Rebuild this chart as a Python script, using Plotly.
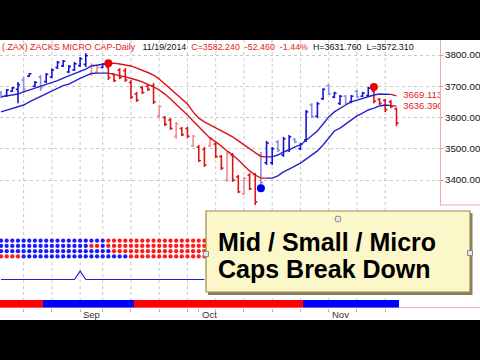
import plotly.graph_objects as go

# ---------------- data ----------------
# bar index 0 = Aug 12 2014 ... 70 = Nov 19 2014 (trading days)
highs = [3685, 3691, 3698, 3714, 3730, 3742, 3717, 3736, 3742, 3758,
         3781, 3784, 3768, 3778, 3794, 3806, 3774, 3765, 3774, 3765,
         3742, 3758, 3758, 3720, 3682, 3701, 3704, 3710, 3640, 3605,
         3598, 3586, 3570, 3570, 3544, 3512, 3506, 3538, 3522, 3480,
         3490, 3486, 3416, 3410, 3422, 3422, 3490, 3525, 3506, 3528,
         3538, 3544, 3534, 3518, 3624, 3646, 3650, 3694, 3707, 3682,
         3672, 3672, 3672, 3688, 3682, 3698, 3688, 3662, 3659, 3656,
         3631.76]
lows = [3662, 3666, 3682, 3646, 3678, 3730, 3698, 3685, 3710, 3726,
        3755, 3762, 3742, 3749, 3762, 3762, 3733, 3742, 3758, 3720,
        3714, 3723, 3714, 3659, 3650, 3675, 3685, 3643, 3598, 3573,
        3560, 3531, 3541, 3534, 3506, 3458, 3442, 3506, 3470, 3432,
        3394, 3394, 3358, 3352, 3368, 3320, 3384, 3448, 3448, 3490,
        3474, 3490, 3518, 3496, 3522, 3598, 3598, 3656, 3672, 3662,
        3640, 3640, 3646, 3662, 3666, 3666, 3646, 3640, 3618, 3630,
        3572.31]
opens = [3680, 3670, 3684, 3690, 3720, 3732, 3700, 3730, 3715, 3730,
         3760, 3765, 3746, 3752, 3766, 3770, 3740, 3745, 3760, 3760,
         3738, 3752, 3750, 3712, 3675, 3696, 3700, 3702, 3605, 3600,
         3592, 3540, 3565, 3565, 3510, 3505, 3498, 3510, 3515, 3475,
         3400, 3480, 3410, 3356, 3415, 3418, 3480, 3455, 3455, 3522,
         3480, 3495, 3530, 3500, 3528, 3640, 3604, 3660, 3702, 3665,
         3645, 3668, 3650, 3684, 3668, 3670, 3684, 3658, 3655, 3650,
         3628]
closes = [3668, 3688, 3695, 3705, 3690, 3740, 3712, 3695, 3738, 3752,
          3776, 3780, 3763, 3772, 3788, 3798, 3768, 3760, 3771, 3728,
          3718, 3728, 3720, 3665, 3655, 3680, 3690, 3650, 3635, 3578,
          3565, 3580, 3545, 3540, 3540, 3462, 3448, 3535, 3475, 3438,
          3485, 3400, 3362, 3405, 3372, 3330, 3392, 3518, 3500, 3495,
          3532, 3538, 3522, 3514, 3618, 3604, 3644, 3690, 3676, 3678,
          3668, 3645, 3668, 3666, 3678, 3694, 3652, 3645, 3625, 3634.70,
          3582.24]
# B dark blue, b light blue, R dark red, r light red
bar_style = "bBBBb BBbBB BBBBB BrrBR RRRRR RRRrR RrRRr RRrRR rRRrR RbBBb BBbBB bBBbB BbBbB BRRRR R".replace(" ", "")

upper = [3666, 3669, 3672, 3675, 3682, 3688, 3694, 3699, 3704, 3710,
         3718, 3726, 3733, 3741, 3749, 3755, 3765, 3768, 3771, 3773,
         3774, 3771, 3768, 3765, 3758, 3752, 3744, 3736, 3723, 3707,
         3691, 3675, 3659, 3643, 3618, 3598, 3586, 3576, 3566, 3557,
         3547, 3538, 3525, 3512, 3499, 3486, 3475, 3474, 3474, 3480,
         3490, 3496, 3506, 3512, 3528, 3544, 3557, 3579, 3602, 3618,
         3630, 3640, 3650, 3656, 3662, 3667, 3672, 3675, 3675, 3674,
         3669.113]
lower = [3618, 3624, 3629, 3634, 3640, 3650, 3659, 3666, 3675, 3685,
         3694, 3702, 3707, 3717, 3725, 3733, 3741, 3742, 3742, 3742,
         3739, 3734, 3730, 3726, 3720, 3714, 3707, 3698, 3688, 3675,
         3659, 3643, 3627, 3608, 3589, 3570, 3550, 3534, 3522, 3509,
         3493, 3480, 3464, 3445, 3429, 3416, 3406, 3406, 3406, 3413,
         3426, 3435, 3445, 3454, 3467, 3480, 3493, 3512, 3534, 3557,
         3566, 3579, 3592, 3605, 3614, 3624, 3630, 3637, 3640, 3638,
         3636.39]
band_segments = [(0, 19, "up"), (19, 47, "down"), (47, 69, "up"), (69, 70, "down")]

sell_idx = [19, 66]
sell_price = [3774, 3698]
buy_idx = [46]
buy_price = [3374]

dot_rows = [
    "BBBBB BBBBB BBBBB BBBBR RRRRR RRRRR RRRRR RR",
    "BBBBB BBBBB BBBBB BRRBR RRRRR RRRRR RRRRR RR",
    "BBBBB BBBBB BBBBB BBBBB RRRRR RRRRR RRRRR RR",
    "RRRRB BBBBB BBBBB BBBBB BBBRR RRRRR RRRRR RR",
]
osc_vals = [0, 0, 0, 0, 0, 0, 0, 0, 0, 0, 0, 0, 0, 0, 1, 0, 0, 0, 0, 0,
            0, 0, 0, 0, 0, 0, 0, 0, 0, 0, 0, 0, 0, 0, 0, 0, 0]
trend_bar = "RRRRR RRRBB BBBBB BBBBB BBBBR RRRRR RRRRR RRRRR RRRRR RRRRR RRRRB BBBBB BBBBB BBBBB B".replace(" ", "")

week_idx = [4, 9, 14, 18, 23, 28, 33, 38, 43, 48, 53, 58, 63, 68]
month_idx = [14, 35, 58]
month_lbl = ["Sep", "Oct", "Nov"]
price_ticks = [3400, 3500, 3600, 3700, 3800]

RED_T, BLK_T = "#e3231b", "#111111"
title_parts = [("(.ZAX) ZACKS MICRO CAP-Daily", RED_T, 3), ("11/19/2014", BLK_T, 2),
               ("C=3582.240", RED_T, 2), ("-52.460", RED_T, 2), ("-1.44%", RED_T, 2),
               ("H=3631.760", BLK_T, 2), ("L=3572.310", BLK_T, 0)]

# ---------------- helpers ----------------
W, H = 480, 360
def py(p):
    return 1 - p / H
def px(p):
    return p / W

XR = [-0.18, 77.7]
XD = [0, 440 / W]
FONT = "Liberation Sans, Arial, sans-serif"
BLUE, LBLUE, RED, LRED = "#1414d4", "#8c8ce8", "#dc1414", "#f08c8c"
style_col = {"B": BLUE, "b": LBLUE, "R": RED, "r": LRED}

fig = go.Figure()

# OHLC bars
for s, col in style_col.items():
    xs, ys = [], []
    for i, st in enumerate(bar_style):
        if st != s:
            continue
        xs += [i, i, None, i - 0.38, i, None, i, i + 0.38, None]
        ys += [lows[i], highs[i], None, opens[i], opens[i], None, closes[i], closes[i], None]
    fig.add_trace(go.Scatter(x=xs, y=ys, mode="lines", line=dict(color=col, width=1.6),
                             xaxis="x", yaxis="y", hoverinfo="skip"))

# bands
for a, b, t in band_segments:
    col = "#2222cc" if t == "up" else "#dd1111"
    xs = list(range(a, b + 1))
    for arr in (upper, lower):
        fig.add_trace(go.Scatter(x=xs, y=arr[a:b + 1], mode="lines",
                                 line=dict(color=col, width=1.4), xaxis="x", yaxis="y",
                                 hoverinfo="skip"))

# signal dots
fig.add_trace(go.Scatter(x=sell_idx, y=sell_price, mode="markers",
                         marker=dict(color="#ee0000", size=8), xaxis="x", yaxis="y"))
fig.add_trace(go.Scatter(x=buy_idx, y=buy_price, mode="markers",
                         marker=dict(color="#0000ee", size=8), xaxis="x", yaxis="y"))

# end labels (clipped at the axis)
fig.add_trace(go.Scatter(x=[71.2, 71.2], y=[upper[-1], lower[-1]], mode="text",
                         text=["%.3f" % upper[-1], "%.3f" % lower[-1]],
                         textposition="middle right", cliponaxis=True,
                         textfont=dict(family=FONT, size=9.5, color=RED_T),
                         xaxis="x", yaxis="y"))

# dot matrix
for colkey, col in (("B", "#1a1aff"), ("R", "#ff1a1a")):
    xs, ys = [], []
    for r, row in enumerate(dot_rows):
        row = row.replace(" ", "")
        for i, c in enumerate(row):
            if c == colkey:
                xs.append(i)
                ys.append(4 - r)
    fig.add_trace(go.Scatter(x=xs, y=ys, mode="markers",
                             marker=dict(color=col, size=4.3, line=dict(width=0)),
                             xaxis="x2", yaxis="y2"))

# oscillator line
fig.add_trace(go.Scatter(x=list(range(len(osc_vals))), y=osc_vals, mode="lines",
                         line=dict(color="#2222cc", width=1.2), xaxis="x3", yaxis="y3"))

# trend color bar
fig.add_trace(go.Bar(x=list(range(len(trend_bar))), y=[1] * len(trend_bar), width=1,
                     marker=dict(color=["#ff0000" if c == "R" else "#0000ff" for c in trend_bar],
                                 line=dict(width=0)),
                     xaxis="x4", yaxis="y4"))

# ---------------- layout ----------------
shapes = [dict(type="rect", xref="paper", yref="paper", x0=0, x1=1, y0=py(320), y1=py(40),
               fillcolor="white", line=dict(width=0), layer="below")]
for w in week_idx:
    shapes.append(dict(type="line", xref="x", yref="paper", x0=w, x1=w, y0=py(307), y1=py(40),
                       line=dict(color="#c9c9c9", width=1, dash="dot"), layer="below"))
shapes.append(dict(type="line", xref="paper", yref="paper", x0=px(440), x1=1, y0=py(205), y1=py(205),
                   line=dict(color="#f4a8a8", width=1), layer="below"))
shapes.append(dict(type="line", xref="paper", yref="paper", x0=0, x1=1, y0=py(307.5), y1=py(307.5),
                   line=dict(color="#f4b4b4", width=1), layer="below"))
# text box with shadow and handles
shapes.append(dict(type="rect", xref="paper", yref="paper", x0=px(208), x1=px(472.5), y0=py(295), y1=py(213),
                   fillcolor="#8a8060", line=dict(width=0), layer="above"))
shapes.append(dict(type="rect", xref="paper", yref="paper", x0=px(206), x1=px(470), y0=py(292), y1=py(211),
                   fillcolor="#fbf7c8", line=dict(color="#9a8c48", width=1.2), layer="above"))
for hx, hy in ((206, 254), (470, 253)):
    shapes.append(dict(type="rect", xref="paper", yref="paper", x0=px(hx - 2.5), x1=px(hx + 2.5),
                       y0=py(hy + 2.5), y1=py(hy - 2.5), fillcolor="#e8e8e8",
                       line=dict(color="#8a8a8a", width=1), layer="above"))
shapes.append(dict(type="circle", xref="paper", yref="paper", x0=px(335), x1=px(341),
                   y0=py(222), y1=py(216), fillcolor="#e8e8e8",
                   line=dict(color="#8a8a8a", width=1), layer="above"))

NBSP = "\u00a0"
title_html = "".join("<span style='color:%s'>%s</span>%s" % (c, t, NBSP * n)
                     for t, c, n in title_parts)
annotations = [dict(text=title_html, x=px(1), y=py(47), xref="paper", yref="paper",
                    xanchor="left", yanchor="middle", showarrow=False, align="left",
                    font=dict(family=FONT, size=8.9, color=BLK_T), borderpad=0)]
for m, lbl in zip(month_idx, month_lbl):
    annotations.append(dict(text=lbl, x=m, y=py(314), xref="x4", yref="paper",
                            xanchor="left", yanchor="middle", showarrow=False, xshift=1,
                            font=dict(family=FONT, size=9.5, color="#333333")))
for txt, yp in (("Mid / Small / Micro", 242), ("Caps Break Down", 269)):
    annotations.append(dict(text="<b>%s</b>" % txt, x=px(216), y=py(yp), xref="paper", yref="paper",
                            xanchor="left", yanchor="middle", showarrow=False,
                            font=dict(family=FONT, size=25, color="#000000")))

hidden_x = dict(range=XR, domain=XD, showgrid=False, zeroline=False, showline=False,
                showticklabels=False, ticks="")
fig.update_layout(
    width=W, height=H, margin=dict(l=0, r=0, t=0, b=0),
    paper_bgcolor="black", plot_bgcolor="rgba(0,0,0,0)",
    showlegend=False, bargap=0,
    xaxis=dict(**hidden_x, anchor="y"),
    xaxis2=dict(**hidden_x, anchor="y2", matches="x"),
    xaxis3=dict(**hidden_x, anchor="y3", matches="x"),
    xaxis4=dict(range=XR, domain=XD, anchor="y4", matches="x", showgrid=False, zeroline=False,
                showline=False, showticklabels=False, ticks="outside", ticklen=3,
                tickcolor="#e6a0a0", tickvals=sorted(set(week_idx + month_idx))),
    yaxis=dict(domain=[py(205), py(40)], range=[3320, 3848], anchor="x", side="right",
               tickvals=price_ticks, tickformat=".2f", showgrid=True, gridcolor="#c9c9c9",
               griddash="dot", zeroline=False, showline=True, linecolor="#f4a8a8", linewidth=1,
               ticks="outside", ticklen=2, tickcolor="#f08080", automargin=False,
               tickfont=dict(family=FONT, size=9.8, color="#111111")),
    yaxis2=dict(domain=[py(259), py(238)], range=[0.5, 4.5], anchor="x2", visible=False),
    yaxis3=dict(domain=[py(282), py(267)], range=[-0.3, 1.5], anchor="x3", visible=False),
    yaxis4=dict(domain=[py(307.5), py(299.5)], range=[0, 1], anchor="x4", visible=False),
    shapes=shapes, annotations=annotations,
)

fig.write_html("out.html", config={"displayModeBar": False})
